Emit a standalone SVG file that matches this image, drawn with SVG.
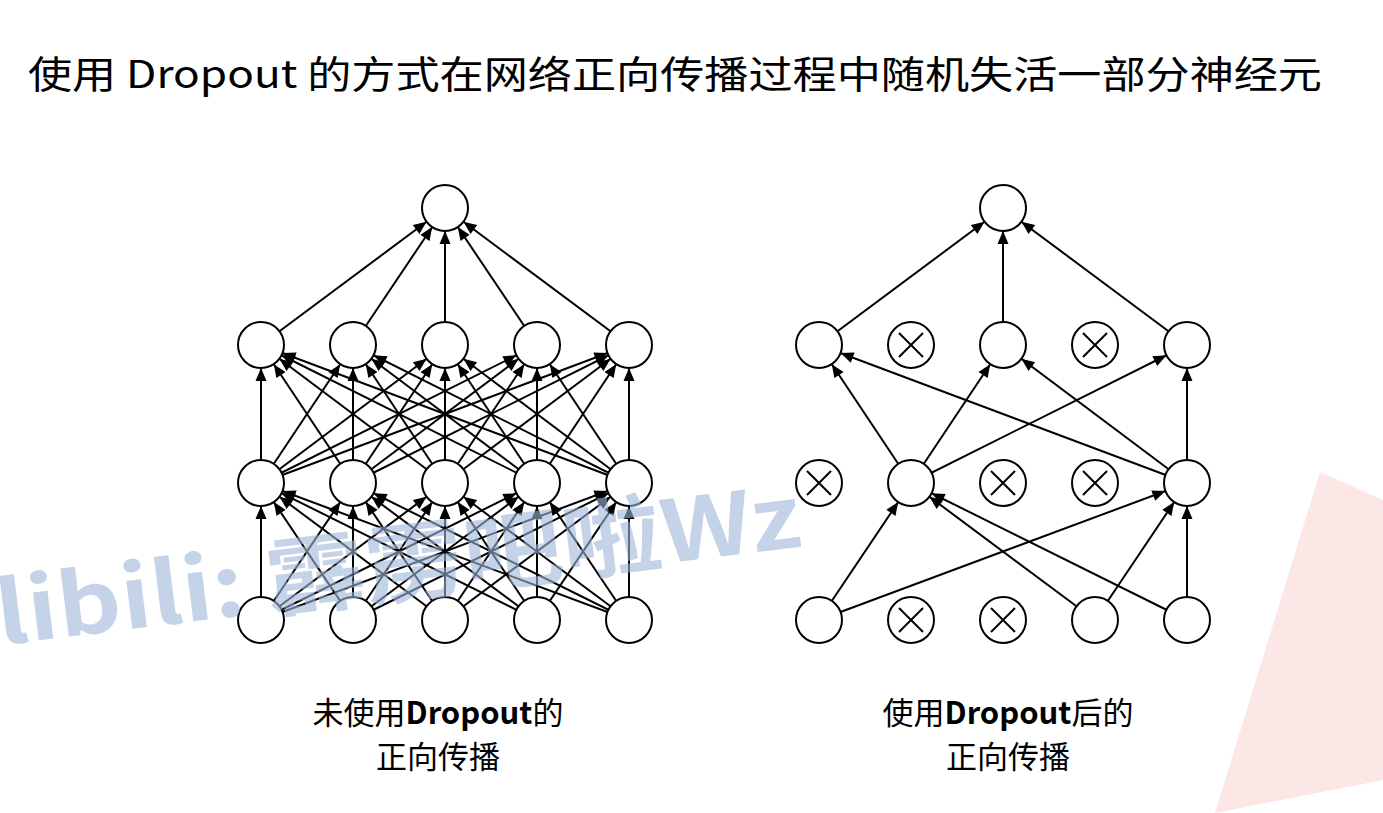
<svg xmlns="http://www.w3.org/2000/svg" width="1383" height="813" viewBox="0 0 1383 813">
<defs>
<marker id="a" markerUnits="userSpaceOnUse" viewBox="-40 -7 40 14" markerWidth="40" markerHeight="14" refX="0" refY="0" orient="auto"><path d="M-23,0 L-36,-5.5 L-36,5.5 z" fill="#000"/></marker>
</defs>
<style>
.c line{stroke:#000;stroke-width:2;marker-end:url(#a)}
.n{fill:#fff;stroke:#000;stroke-width:2}
.x{stroke:#000;stroke-width:2}
.t{font-family:"Noto Sans CJK SC","Noto Sans",sans-serif;fill:#000}
</style>
<rect width="1383" height="813" fill="#fff"/>
<polygon points="1320,472 1383,500 1383,780 1215,813" fill="#fde6e6"/>
<text x="28" y="88" class="t" font-size="38" textLength="1294" lengthAdjust="spacingAndGlyphs">使用 Dropout 的方式在网络正向传播过程中随机失活一部分神经元</text>
<g class="c" id="connectors">
<line x1="261" y1="620" x2="261" y2="483"/><line x1="261" y1="620" x2="353" y2="483"/><line x1="261" y1="620" x2="445" y2="483"/><line x1="261" y1="620" x2="537" y2="483"/><line x1="261" y1="620" x2="629" y2="483"/>
<line x1="353" y1="620" x2="261" y2="483"/><line x1="353" y1="620" x2="353" y2="483"/><line x1="353" y1="620" x2="445" y2="483"/><line x1="353" y1="620" x2="537" y2="483"/><line x1="353" y1="620" x2="629" y2="483"/>
<line x1="445" y1="620" x2="261" y2="483"/><line x1="445" y1="620" x2="353" y2="483"/><line x1="445" y1="620" x2="445" y2="483"/><line x1="445" y1="620" x2="537" y2="483"/><line x1="445" y1="620" x2="629" y2="483"/>
<line x1="537" y1="620" x2="261" y2="483"/><line x1="537" y1="620" x2="353" y2="483"/><line x1="537" y1="620" x2="445" y2="483"/><line x1="537" y1="620" x2="537" y2="483"/><line x1="537" y1="620" x2="629" y2="483"/>
<line x1="629" y1="620" x2="261" y2="483"/><line x1="629" y1="620" x2="353" y2="483"/><line x1="629" y1="620" x2="445" y2="483"/><line x1="629" y1="620" x2="537" y2="483"/><line x1="629" y1="620" x2="629" y2="483"/>
<line x1="261" y1="483" x2="261" y2="345"/><line x1="261" y1="483" x2="353" y2="345"/><line x1="261" y1="483" x2="445" y2="345"/><line x1="261" y1="483" x2="537" y2="345"/><line x1="261" y1="483" x2="629" y2="345"/>
<line x1="353" y1="483" x2="261" y2="345"/><line x1="353" y1="483" x2="353" y2="345"/><line x1="353" y1="483" x2="445" y2="345"/><line x1="353" y1="483" x2="537" y2="345"/><line x1="353" y1="483" x2="629" y2="345"/>
<line x1="445" y1="483" x2="261" y2="345"/><line x1="445" y1="483" x2="353" y2="345"/><line x1="445" y1="483" x2="445" y2="345"/><line x1="445" y1="483" x2="537" y2="345"/><line x1="445" y1="483" x2="629" y2="345"/>
<line x1="537" y1="483" x2="261" y2="345"/><line x1="537" y1="483" x2="353" y2="345"/><line x1="537" y1="483" x2="445" y2="345"/><line x1="537" y1="483" x2="537" y2="345"/><line x1="537" y1="483" x2="629" y2="345"/>
<line x1="629" y1="483" x2="261" y2="345"/><line x1="629" y1="483" x2="353" y2="345"/><line x1="629" y1="483" x2="445" y2="345"/><line x1="629" y1="483" x2="537" y2="345"/><line x1="629" y1="483" x2="629" y2="345"/>
<line x1="261" y1="345" x2="445" y2="208"/><line x1="353" y1="345" x2="445" y2="208"/><line x1="445" y1="345" x2="445" y2="208"/><line x1="537" y1="345" x2="445" y2="208"/><line x1="629" y1="345" x2="445" y2="208"/>
<line x1="819" y1="620" x2="911" y2="483"/><line x1="819" y1="620" x2="1187" y2="483"/>
<line x1="1095" y1="620" x2="911" y2="483"/><line x1="1095" y1="620" x2="1187" y2="483"/>
<line x1="1187" y1="620" x2="911" y2="483"/><line x1="1187" y1="620" x2="1187" y2="483"/>
<line x1="911" y1="483" x2="819" y2="345"/><line x1="911" y1="483" x2="1003" y2="345"/><line x1="911" y1="483" x2="1187" y2="345"/>
<line x1="1187" y1="483" x2="819" y2="345"/><line x1="1187" y1="483" x2="1003" y2="345"/><line x1="1187" y1="483" x2="1187" y2="345"/>
<line x1="819" y1="345" x2="1003" y2="208"/><line x1="1003" y1="345" x2="1003" y2="208"/><line x1="1187" y1="345" x2="1003" y2="208"/>
</g>
<g id="left-net">
<circle class="n" cx="445" cy="208" r="23"/>
<circle class="n" cx="261" cy="345" r="23"/><circle class="n" cx="353" cy="345" r="23"/><circle class="n" cx="445" cy="345" r="23"/><circle class="n" cx="537" cy="345" r="23"/><circle class="n" cx="629" cy="345" r="23"/>
<circle class="n" cx="261" cy="483" r="23"/><circle class="n" cx="353" cy="483" r="23"/><circle class="n" cx="445" cy="483" r="23"/><circle class="n" cx="537" cy="483" r="23"/><circle class="n" cx="629" cy="483" r="23"/>
<circle class="n" cx="261" cy="620" r="23"/><circle class="n" cx="353" cy="620" r="23"/><circle class="n" cx="445" cy="620" r="23"/><circle class="n" cx="537" cy="620" r="23"/><circle class="n" cx="629" cy="620" r="23"/>
</g>
<g id="right-net">
<circle class="n" cx="1003" cy="208" r="23"/>
<circle class="n" cx="819" cy="345" r="23"/><circle class="n" cx="1003" cy="345" r="23"/><circle class="n" cx="1187" cy="345" r="23"/>
<circle class="n" cx="911" cy="483" r="23"/><circle class="n" cx="1187" cy="483" r="23"/>
<circle class="n" cx="819" cy="620" r="23"/><circle class="n" cx="1095" cy="620" r="23"/><circle class="n" cx="1187" cy="620" r="23"/>
</g>
<g id="dropped">
<g transform="translate(911,345)"><circle class="n" r="23"/><path class="x" d="M-12,-12L12,12M12,-12L-12,12"/></g>
<g transform="translate(1095,345)"><circle class="n" r="23"/><path class="x" d="M-12,-12L12,12M12,-12L-12,12"/></g>
<g transform="translate(819,483)"><circle class="n" r="23"/><path class="x" d="M-12,-12L12,12M12,-12L-12,12"/></g>
<g transform="translate(1003,483)"><circle class="n" r="23"/><path class="x" d="M-12,-12L12,12M12,-12L-12,12"/></g>
<g transform="translate(1095,483)"><circle class="n" r="23"/><path class="x" d="M-12,-12L12,12M12,-12L-12,12"/></g>
<g transform="translate(911,620)"><circle class="n" r="23"/><path class="x" d="M-12,-12L12,12M12,-12L-12,12"/></g>
<g transform="translate(1003,620)"><circle class="n" r="23"/><path class="x" d="M-12,-12L12,12M12,-12L-12,12"/></g>
</g>
<g id="captions" class="t" font-size="31" text-anchor="middle">
<text x="438" y="724">未使用<tspan font-weight="bold">Dropout</tspan>的</text>
<text x="438" y="768">正向传播</text>
<text x="1008" y="724">使用<tspan font-weight="bold">Dropout</tspan>后的</text>
<text x="1008" y="768">正向传播</text>
</g>
<text transform="translate(0,645) rotate(-7)" font-family="'Noto Sans CJK SC',sans-serif" font-weight="bold" font-size="86" textLength="810" lengthAdjust="spacingAndGlyphs" fill="#9db6d8" fill-opacity="0.6">libili: 霹雳吧啦Wz</text>
</svg>
